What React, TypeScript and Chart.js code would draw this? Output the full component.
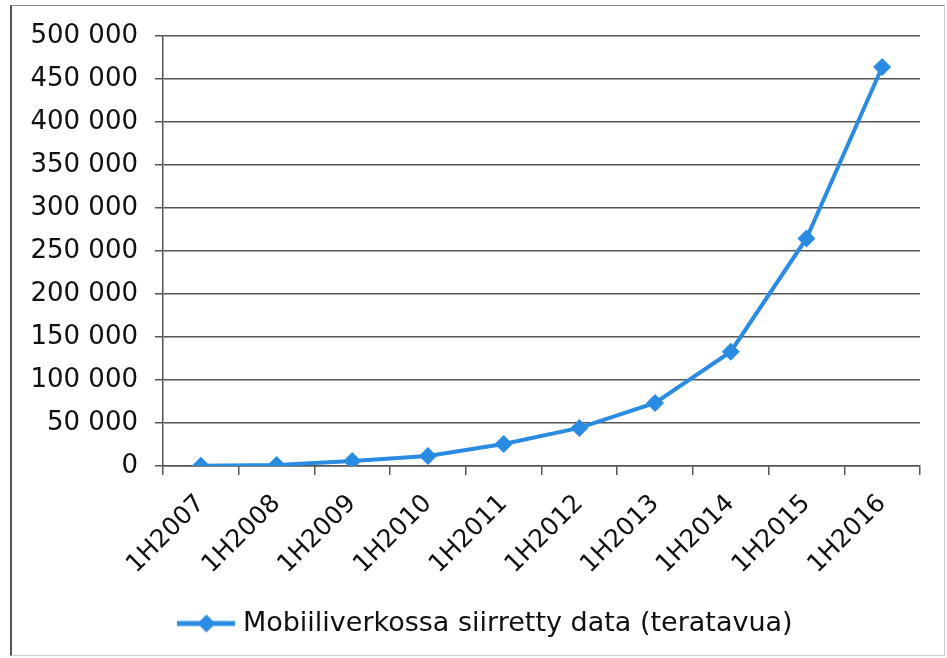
import React, { useEffect, useRef } from "react";
import { Chart, registerables } from "chart.js";

Chart.register(...registerables);

const categories = ["1H2007", "1H2008", "1H2009", "1H2010", "1H2011", "1H2012", "1H2013", "1H2014", "1H2015", "1H2016"];
const dataValues = [300, 1200, 5800, 11700, 25600, 44300, 73400, 132900, 264600, 463900];
const seriesLabel = "Mobiiliverkossa siirretty data (teratavua)";
const yMin = 0;
const yMax = 500000;
const yStep = 50000;

const BLUE = "#2a8be3";
const GRID = "#555555";
const FONT = "'DejaVu Sans', Verdana, sans-serif";

const fmt = (v: number) => String(v).replace(/\B(?=(\d{3})+(?!\d))/g, " ");

function makeLegendSymbol(): HTMLCanvasElement {
  const c = document.createElement("canvas");
  c.width = 58;
  c.height = 20;
  const ctx = c.getContext("2d")!;
  ctx.strokeStyle = BLUE;
  ctx.lineWidth = 5;
  ctx.beginPath();
  ctx.moveTo(0, 10);
  ctx.lineTo(58, 10);
  ctx.stroke();
  ctx.fillStyle = BLUE;
  ctx.beginPath();
  ctx.moveTo(29, 1);
  ctx.lineTo(38, 10);
  ctx.lineTo(29, 19);
  ctx.lineTo(20, 10);
  ctx.closePath();
  ctx.fill();
  return c;
}

const shiftLegend = {
  id: "shiftLegend",
  afterLayout(chart: any) {
    const lg = chart.legend;
    if (!lg) return;
    lg.left += 23;
    lg.right += 23;
  },
};

export default function App() {
  const ref = useRef<HTMLCanvasElement | null>(null);
  useEffect(() => {
    if (!ref.current) return;
    const symbol = makeLegendSymbol();
    const chart = new Chart(ref.current, {
      type: "line",
      data: {
        labels: categories,
        datasets: [
          {
            label: seriesLabel,
            data: dataValues,
            borderColor: BLUE,
            backgroundColor: BLUE,
            borderWidth: 4,
            pointStyle: "rectRot",
            pointRadius: 9,
            pointBackgroundColor: BLUE,
            pointBorderColor: BLUE,
            pointBorderWidth: 0,
            tension: 0,
          },
        ],
      },
      options: {
        responsive: false,
        animation: false,
        layout: { padding: { left: 10, top: 36, right: 27, bottom: 11 } },
        plugins: {
          tooltip: { enabled: false },
          legend: {
            position: "bottom",
            labels: {
              font: { family: FONT, size: 27 },
              color: "#111",
              usePointStyle: true,
              pointStyle: symbol as any,
              pointStyleWidth: 46,
              boxHeight: 20,
              padding: 10,
            },
          },
        },
        scales: {
          x: {
            offset: true,
            afterFit: (s: any) => {
              s.height = 134;
            },
            grid: {
              offset: true,
              drawOnChartArea: false,
              drawTicks: true,
              tickLength: 9,
              color: GRID,
              lineWidth: 1.5,
            },
            border: { display: true, color: GRID, width: 1.5 },
            ticks: {
              minRotation: 45,
              maxRotation: 45,
              autoSkip: false,
              padding: 14,
              color: "#111",
              font: { family: FONT, size: 25 },
            },
          },
          y: {
            min: yMin,
            max: yMax,
            afterFit: (s: any) => {
              s.width = 153;
            },
            grid: {
              color: GRID,
              lineWidth: 1.5,
              drawTicks: true,
              tickLength: 8,
            },
            border: { display: true, color: GRID, width: 1.5 },
            ticks: {
              stepSize: yStep,
              padding: 17,
              color: "#111",
              font: { family: FONT, size: 26 },
              callback: (v: any) => fmt(Number(v)),
            },
          },
        },
      },
      plugins: [shiftLegend],
    });
    return () => chart.destroy();
  }, []);

  return (
    <div style={{ position: "fixed", left: 0, top: 0, width: 947, height: 658, background: "#fff" }}>
      <div
        style={{
          position: "absolute",
          left: 10,
          top: 5,
          width: 932,
          height: 649,
          borderTop: "1.5px solid #8a8a8a",
          borderLeft: "2px solid #555",
          borderRight: "1px solid #c8c8c8",
          borderBottom: "1px solid #d0d0d0",
        }}
      />
      <canvas
        ref={ref}
        width={947}
        height={658}
        style={{ position: "absolute", left: 0, top: 0, width: 947, height: 658 }}
      />
    </div>
  );
}
